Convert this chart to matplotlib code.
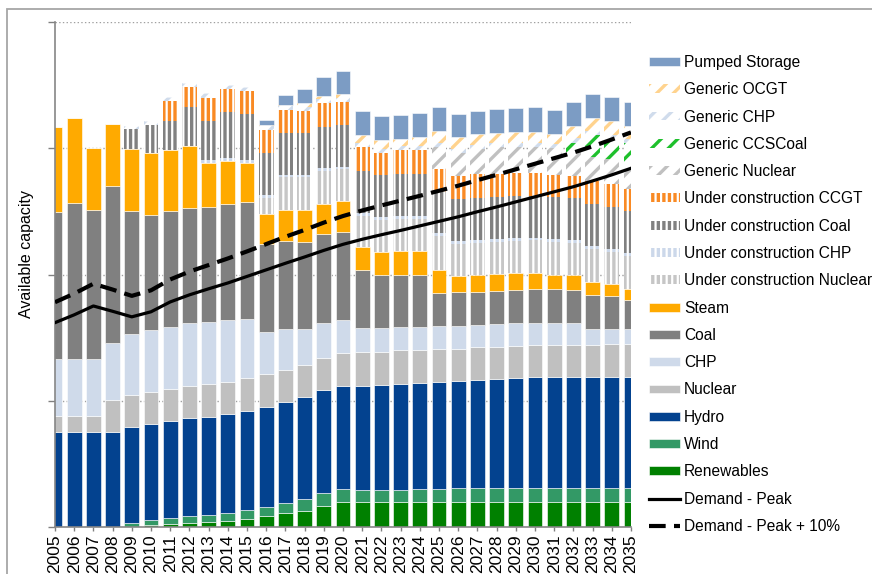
import numpy as np
import matplotlib
matplotlib.use("Agg")
import matplotlib.pyplot as plt
from matplotlib.patches import Rectangle

plt.rcParams['font.family'] = ['Liberation Sans', 'DejaVu Sans']
plt.rcParams['hatch.linewidth'] = 2.4

years = list(range(2005, 2036))

# capacity (GW); gridlines every 5 GW
renewables = [0, 0, 0, 0, 0, 0.08, 0.12, 0.16, 0.22, 0.26, 0.34, 0.44, 0.58, 0.66, 0.86, 0.99,
              0.99, 0.99, 0.99, 0.99, 0.99, 0.99, 0.99, 0.99, 0.99, 0.99, 0.99, 0.99, 0.99, 0.99, 0.99]
wind = [0, 0, 0, 0, 0.16, 0.21, 0.25, 0.29, 0.27, 0.30, 0.33, 0.37, 0.38, 0.46, 0.49, 0.53,
        0.50, 0.50, 0.50, 0.53, 0.53, 0.55, 0.55, 0.55, 0.55, 0.55, 0.55, 0.55, 0.55, 0.55, 0.55]
hydro = [3.77, 3.77, 3.77, 3.77, 3.81, 3.80, 3.84, 3.87, 3.89, 3.92, 3.94, 3.97, 4.01, 4.04, 4.07, 4.09,
         4.12, 4.16, 4.19, 4.21, 4.24, 4.25, 4.30, 4.33, 4.37, 4.40, 4.40, 4.41, 4.41, 4.41, 4.41]
nuclear = [0.63, 0.63, 0.63, 1.27, 1.27, 1.27, 1.28, 1.29, 1.29, 1.29, 1.31, 1.29, 1.27, 1.28, 1.27, 1.27,
           1.31, 1.28, 1.32, 1.27, 1.31, 1.28, 1.29, 1.28, 1.28, 1.29, 1.29, 1.28, 1.28, 1.31, 1.31]
chp = [2.28, 2.28, 2.25, 2.27, 2.43, 2.43, 2.44, 2.46, 2.44, 2.42, 2.34, 1.65, 1.61, 1.39, 1.40, 1.31,
       0.97, 0.95, 0.91, 0.91, 0.88, 0.91, 0.86, 0.90, 0.89, 0.87, 0.87, 0.85, 0.63, 0.57, 0.57]
coal = [5.81, 6.16, 5.91, 6.18, 4.83, 4.59, 4.58, 4.55, 4.58, 4.59, 4.61, 3.50, 3.48, 3.48, 3.50, 3.48,
        2.28, 2.11, 2.09, 2.09, 1.32, 1.32, 1.33, 1.31, 1.32, 1.33, 1.33, 1.32, 1.35, 1.33, 1.15]
steam = [3.35, 3.38, 2.44, 2.47, 2.47, 2.43, 2.44, 2.47, 1.73, 1.73, 1.54, 1.19, 1.23, 1.26, 1.22, 1.23,
         0.93, 0.92, 0.95, 0.95, 0.92, 0.65, 0.66, 0.67, 0.66, 0.65, 0.55, 0.59, 0.51, 0.48, 0.45]
uc_nuclear = [0, 0, 0, 0, 0, 0, 0, 0, 0, 0, 0, 0.62, 1.29, 1.29, 1.29, 1.28,
              1.21, 1.26, 1.26, 1.26, 1.32, 1.27, 1.28, 1.26, 1.28, 1.28, 1.31, 1.28, 1.31, 1.27, 1.29]
uc_chp = [0, 0, 0, 0, 0, 0, 0, 0, 0.12, 0.09, 0.11, 0.13, 0.09, 0.09, 0.11, 0.10,
          0.12, 0.13, 0.13, 0.13, 0.13, 0.12, 0.11, 0.12, 0.11, 0.10, 0.11, 0.11, 0.11, 0.11, 0.13]
uc_coal = [0, 0, 0, 0, 0.80, 1.12, 1.12, 1.54, 1.54, 1.85, 1.85, 1.65, 1.65, 1.65, 1.64, 1.65,
           1.69, 1.65, 1.65, 1.65, 1.65, 1.65, 1.67, 1.66, 1.65, 1.65, 1.66, 1.65, 1.66, 1.66, 1.65]
uc_ccgt = [0, 0, 0, 0, 0, 0, 0.81, 0.81, 0.91, 0.90, 0.89, 0.92, 0.92, 0.89, 0.93, 0.92,
           0.93, 0.88, 0.93, 0.93, 0.89, 0.92, 0.94, 0.92, 0.93, 0.92, 0.88, 0.89, 0.92, 0.92, 0.90]
gen_nuclear = [0, 0, 0, 0, 0, 0, 0, 0, 0, 0, 0, 0, 0, 0, 0, 0,
               0, 0, 0, 0, 0.89, 0.92, 0.98, 1.06, 1.03, 1.03, 1.06, 0.95, 0.95, 0.98, 1.02]
gen_ccscoal = [0, 0, 0, 0, 0, 0, 0, 0, 0, 0, 0, 0, 0, 0, 0, 0,
               0, 0, 0, 0, 0, 0, 0, 0, 0, 0, 0, 0.36, 0.86, 0.79, 0.79]
gen_chp = [0, 0, 0, 0, 0.12, 0.16, 0.16, 0.16, 0.18, 0.16, 0.16, 0.16, 0.16, 0.16, 0.16, 0.16,
           0.16, 0.16, 0.16, 0.16, 0.16, 0.16, 0.16, 0.16, 0.16, 0.16, 0.16, 0.16, 0.16, 0.16, 0.16]
gen_ocgt = [0, 0, 0, 0, 0, 0, 0, 0, 0, 0, 0, 0.04, 0.04, 0.16, 0.12, 0.15,
            0.33, 0.34, 0.30, 0.37, 0.46, 0.45, 0.45, 0.40, 0.44, 0.44, 0.41, 0.50, 0.50, 0.54, 0.50]
pumped = [0, 0, 0, 0, 0, 0, 0, 0, 0, 0, 0, 0.19, 0.40, 0.54, 0.75, 0.92,
          0.92, 0.95, 0.95, 0.95, 0.96, 0.92, 0.92, 0.95, 0.92, 0.97, 0.95, 0.95, 0.96, 0.97, 0.97]

demand_peak = [8.10, 8.41, 8.76, 8.55, 8.33, 8.53, 8.92, 9.20, 9.44, 9.67, 9.93, 10.19, 10.45, 10.70,
               10.96, 11.20, 11.40, 11.58, 11.75, 11.93, 12.11, 12.29, 12.49, 12.68, 12.88, 13.08,
               13.28, 13.48, 13.71, 13.95, 14.21]
demand_peak10 = [8.91, 9.25, 9.64, 9.41, 9.16, 9.38, 9.81, 10.12, 10.38, 10.64, 10.92, 11.21, 11.50,
                 11.77, 12.06, 12.32, 12.54, 12.74, 12.93, 13.12, 13.32, 13.52, 13.74, 13.95, 14.17,
                 14.39, 14.61, 14.83, 15.08, 15.35, 15.63]

# (label, values, colour, hatch) bottom to top
stack = [
    ('Renewables', renewables, '#008000', None),
    ('Wind', wind, '#339966', None),
    ('Hydro', hydro, '#03428F', None),
    ('Nuclear', nuclear, '#C0C0C0', None),
    ('CHP', chp, '#CFDAEA', None),
    ('Coal', coal, '#808080', None),
    ('Steam', steam, '#FFAA00', None),
    ('Under construction Nuclear', uc_nuclear, '#C6C6C6', '|||'),
    ('Under construction CHP', uc_chp, '#CCD8EA', '|||'),
    ('Under construction Coal', uc_coal, '#808080', '|||'),
    ('Under construction CCGT', uc_ccgt, '#F98A24', '|||'),
    ('Generic Nuclear', gen_nuclear, '#C0C0C0', '//'),
    ('Generic CCSCoal', gen_ccscoal, '#1EC02C', '//'),
    ('Generic CHP', gen_chp, '#D0DCEC', '//'),
    ('Generic OCGT', gen_ocgt, '#FFD38E', '//'),
    ('Pumped Storage', pumped, '#7C9CC4', None),
]

fig = plt.figure(figsize=(8.72, 5.74), dpi=100)
ax = fig.add_axes([55 / 872, 46.7 / 574, 576 / 872, 505.3 / 574])

x = np.arange(len(years))
bottom = np.zeros(len(years))
handles = {}
for label, vals, col, hatch in stack:
    vals = np.array(vals)
    if hatch is None:
        b = ax.bar(x, vals, 0.78, bottom=bottom, color=col, edgecolor='white',
                   linewidth=0.4, label=label, zorder=2)
    else:
        b = ax.bar(x, vals, 0.78, bottom=bottom, facecolor='white', edgecolor=col,
                   linewidth=0, hatch=hatch, label=label, zorder=2)
    handles[label] = b
    bottom += vals

l1, = ax.plot(x, demand_peak, color='black', lw=2.3, zorder=4, label='Demand - Peak')
l2, = ax.plot(x, demand_peak10, color='black', lw=3, ls=(0, (4, 2)), zorder=4,
              label='Demand - Peak + 10%')

ax.set_xlim(0, 30)
ax.set_ylim(0, 20)
ax.set_yticks([0, 5, 10, 15, 20])
ax.set_yticklabels([])
ax.set_xticks(x)
ax.set_xticklabels([str(y) for y in years], rotation=90, fontsize=12.5)
ax.tick_params(axis='y', length=5, color='#808080', width=1)
ax.tick_params(axis='x', length=3, color='#808080', width=1, pad=2)
ax.grid(axis='y', color='#A0A0A0', linestyle=':', linewidth=1, zorder=0)
ax.set_axisbelow(True)
for s in ['top', 'right']:
    ax.spines[s].set_visible(False)
for s in ['left', 'bottom']:
    ax.spines[s].set_color('#868686')
    ax.spines[s].set_linewidth(1.2)
ax.set_ylabel('Available capacity', fontsize=11.5)
ax.yaxis.set_label_coords(-0.036, 0.54)

order = [s[0] for s in stack][::-1]
h = [handles[k] for k in order] + [l1, l2]
lab = order + ['Demand - Peak', 'Demand - Peak + 10%']
fig.legend(h, lab, loc='upper left', bbox_to_anchor=(649 / 872, 1 - 55 / 574),
           frameon=False, fontsize=11.2, borderpad=0, borderaxespad=0,
           handlelength=2.0, handleheight=0.5, handletextpad=0.25, labelspacing=0.79)

# chart area border
fig.patches.append(Rectangle((7 / 872, -0.1), 1.2, 1.1 - 9 / 574,
                             transform=fig.transFigure, fill=False,
                             edgecolor='#A6A6A6', linewidth=1.3))

fig.savefig('out.png', dpi=100)
